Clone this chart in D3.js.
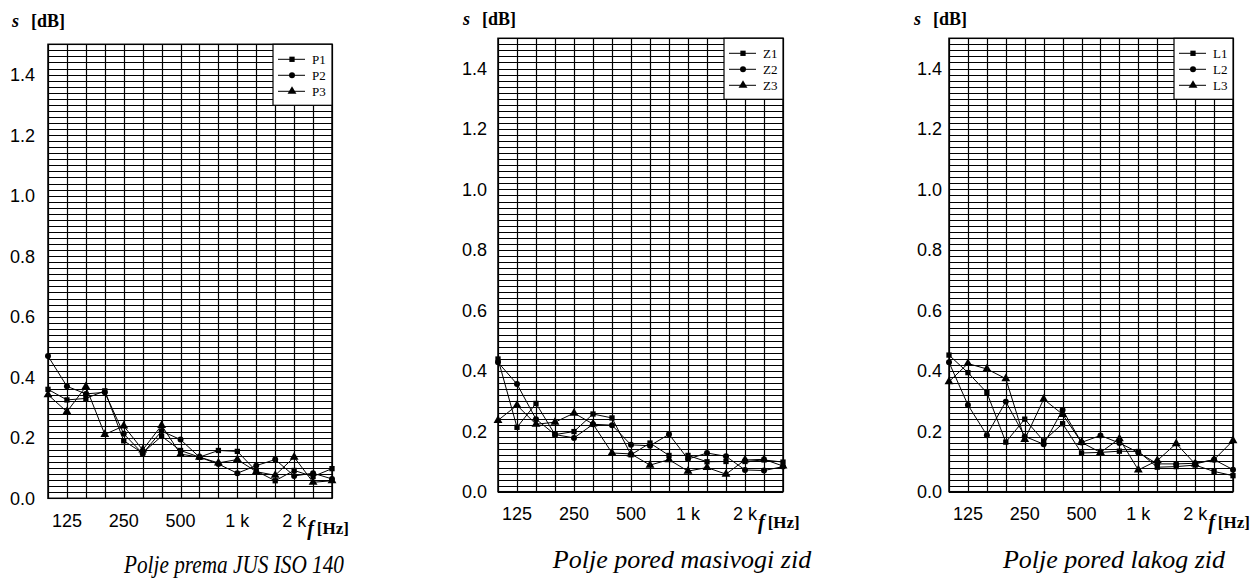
<!DOCTYPE html>
<html>
<head>
<meta charset="utf-8">
<script src="https://cdn.jsdelivr.net/npm/d3@7"></script>
<style>
  html, body { margin: 0; padding: 0; background: #fff; }
  svg { display: block; }
</style>
</head>
<body>
<svg id="chart" width="1259" height="587"></svg>
<script>
// ---------- data ----------
const frequencies = [100, 125, 160, 200, 250, 315, 400, 500, 630, 800, 1000, 1250, 1600, 2000, 2500, 3150];
const xTickValues = [125, 250, 500, 1000, 2000];
const xTickLabels = ["125", "250", "500", "1 k", "2 k"];
const yTickValues = [0, 0.2, 0.4, 0.6, 0.8, 1.0, 1.2, 1.4];
const yTickLabels = ["0.0", "0.2", "0.4", "0.6", "0.8", "1.0", "1.2", "1.4"];
const yDomain = [0, 1.5];
const yGridStep = 0.02;

// Panel 1: Polje prema JUS ISO 140
const P1 = [0.36, 0.325, 0.33, 0.355, 0.19, 0.15, 0.205, 0.158, 0.136, 0.158, 0.155, 0.09, 0.058, 0.092, 0.072, 0.098];
const P2 = [0.47, 0.37, 0.345, 0.35, 0.213, 0.148, 0.222, 0.194, 0.136, 0.113, 0.083, 0.108, 0.128, 0.074, 0.083, 0.064];
const P3 = [0.342, 0.286, 0.369, 0.211, 0.239, 0.16, 0.241, 0.146, 0.136, 0.117, 0.128, 0.088, 0.076, 0.136, 0.053, 0.058];

// Panel 2: Polje pored masivogi zid
const Z1 = [0.439, 0.213, 0.292, 0.189, 0.199, 0.257, 0.244, 0.122, 0.161, 0.12, 0.12, 0.099, 0.1, 0.1, 0.105, 0.098];
const Z2 = [0.428, 0.356, 0.24, 0.189, 0.178, 0.223, 0.22, 0.155, 0.152, 0.19, 0.108, 0.128, 0.117, 0.072, 0.07, 0.083];
const Z3 = [0.236, 0.286, 0.223, 0.23, 0.26, 0.224, 0.128, 0.125, 0.088, 0.106, 0.068, 0.08, 0.058, 0.105, 0.107, 0.085];

// Panel 3: Polje pored lakog zid
const L1 = [0.452, 0.394, 0.328, 0.164, 0.24, 0.168, 0.225, 0.128, 0.13, 0.134, 0.133, 0.081, 0.083, 0.088, 0.067, 0.053];
const L2 = [0.428, 0.287, 0.187, 0.298, 0.183, 0.157, 0.27, 0.163, 0.186, 0.161, 0.13, 0.092, 0.092, 0.094, 0.106, 0.073];
const L3 = [0.364, 0.424, 0.406, 0.374, 0.173, 0.306, 0.256, 0.163, 0.13, 0.175, 0.072, 0.103, 0.159, 0.092, 0.106, 0.169];

const panelTitles = ["Polje prema JUS ISO 140", "Polje pored masivogi zid", "Polje pored lakog zid"];
const seriesNames = [["P1", "P2", "P3"], ["Z1", "Z2", "Z3"], ["L1", "L2", "L3"]];
const seriesValues = [[P1, P2, P3], [Z1, Z2, Z3], [L1, L2, L3]];
const markerTypes = [d3.symbolSquare, d3.symbolCircle, d3.symbolTriangle];

// ---------- layout ----------
const SERIF = "'Liberation Serif', 'Times New Roman', serif";
const SANS = "'Liberation Sans', Arial, sans-serif";
const layout = [
  { left: 48,  right: 332,  top: 44.3, bottom: 498.3, labelRight: 35,  titleX: 12,  titleY: 27, capX: 234,  capY: 573, capSize: 26, capLen: 220 },
  { left: 498, right: 783,  top: 38.3, bottom: 491.7, labelRight: 487, titleX: 463, titleY: 25, capX: 682,  capY: 568, capSize: 26, capLen: null },
  { left: 949, right: 1233, top: 38.3, bottom: 491.7, labelRight: 942, titleX: 914, titleY: 25, capX: 1114, capY: 568, capSize: 26, capLen: null }
];
const markerSizes = [28, 28, 34];

const svg = d3.select("#chart");

layout.forEach((L, pi) => {
  const g = svg.append("g");
  const x = d3.scalePoint().domain(frequencies).range([L.left, L.right]).padding(0);
  const y = d3.scaleLinear().domain(yDomain).range([L.bottom, L.top]);

  // horizontal grid
  const hvals = d3.range(0, Math.round((yDomain[1]) / yGridStep) + 1).map(i => i * yGridStep);
  g.append("g").selectAll("line").data(hvals).join("line")
    .attr("x1", L.left).attr("x2", L.right)
    .attr("y1", d => Math.round(y(d)) + 0.5).attr("y2", d => Math.round(y(d)) + 0.5)
    .attr("stroke", "#000").attr("stroke-width", 1);

  // vertical grid
  g.append("g").selectAll("line").data(frequencies).join("line")
    .attr("x1", d => Math.round(x(d)) + 0.5).attr("x2", d => Math.round(x(d)) + 0.5)
    .attr("y1", L.top).attr("y2", L.bottom)
    .attr("stroke", "#000").attr("stroke-width", 1.2);

  // frame
  g.append("rect")
    .attr("x", L.left).attr("y", L.top)
    .attr("width", L.right - L.left).attr("height", L.bottom - L.top)
    .attr("fill", "none").attr("stroke", "#000").attr("stroke-width", 1.5);

  // y tick labels
  g.append("g").selectAll("text").data(yTickValues).join("text")
    .attr("x", L.labelRight).attr("y", d => y(d)).attr("dy", "0.36em")
    .attr("text-anchor", "end")
    .attr("font-family", SANS).attr("font-size", 18)
    .text((d, i) => yTickLabels[i]);

  // x tick labels
  const xLabY = L.bottom + 28.5;
  g.append("g").selectAll("text").data(xTickValues).join("text")
    .attr("x", d => x(d)).attr("y", xLabY)
    .attr("text-anchor", "middle")
    .attr("font-family", SANS).attr("font-size", 18)
    .text((d, i) => xTickLabels[i]);

  // f [Hz]
  const fx = x(2000) + 13;
  const ft = g.append("text").attr("x", fx).attr("y", L.bottom + 37)
    .attr("font-family", SERIF).attr("font-size", 17).attr("font-weight", "bold");
  ft.append("tspan").attr("font-style", "italic").attr("font-size", 20).text("f");
  ft.append("tspan").attr("dx", 3).attr("dy", -1).text("[Hz]");

  // y title: s [dB]
  const tt = g.append("text").attr("x", L.titleX).attr("y", L.titleY)
    .attr("font-family", SERIF).attr("font-size", 18).attr("font-weight", "bold");
  tt.append("tspan").attr("font-style", "italic").text("s");
  tt.append("tspan").attr("dx", 12).text("[dB]");

  // series
  const line = d3.line().x((d, i) => x(frequencies[i])).y(d => y(d));
  seriesValues[pi].forEach((vals, si) => {
    g.append("path").datum(vals)
      .attr("d", line).attr("fill", "none").attr("stroke", "#000").attr("stroke-width", 1);
    const sym = d3.symbol().type(markerTypes[si]).size(markerSizes[si]);
    g.append("g").selectAll("path").data(vals).join("path")
      .attr("transform", (d, i) => `translate(${x(frequencies[i])},${y(d)})`)
      .attr("d", sym).attr("fill", "#000");
  });

  // legend
  const lw = 59, lh = 61;
  const lx = L.right - lw, ly = L.top;
  const lg = g.append("g");
  lg.append("rect").attr("x", lx).attr("y", ly).attr("width", lw).attr("height", lh)
    .attr("fill", "#fff").attr("stroke", "#000").attr("stroke-width", 1.2);
  seriesNames[pi].forEach((nm, si) => {
    const yy = ly + 15 + si * 16;
    lg.append("line").attr("x1", lx + 5).attr("x2", lx + 32).attr("y1", yy).attr("y2", yy)
      .attr("stroke", "#000").attr("stroke-width", 1);
    lg.append("path").attr("transform", `translate(${lx + 19},${yy})`)
      .attr("d", d3.symbol().type(markerTypes[si]).size(markerSizes[si])()).attr("fill", "#000");
    lg.append("text").attr("x", lx + 39).attr("y", yy).attr("dy", "0.35em")
      .attr("font-family", SERIF).attr("font-size", 13)
      .text(nm);
  });

  // caption
  const cap = g.append("text").attr("x", L.capX).attr("y", L.capY).attr("text-anchor", "middle")
    .attr("font-family", SERIF).attr("font-size", L.capSize)
    .attr("font-style", "italic").text(panelTitles[pi]);
  if (L.capLen) cap.attr("textLength", L.capLen).attr("lengthAdjust", "spacingAndGlyphs");
});
</script>
</body>
</html>
